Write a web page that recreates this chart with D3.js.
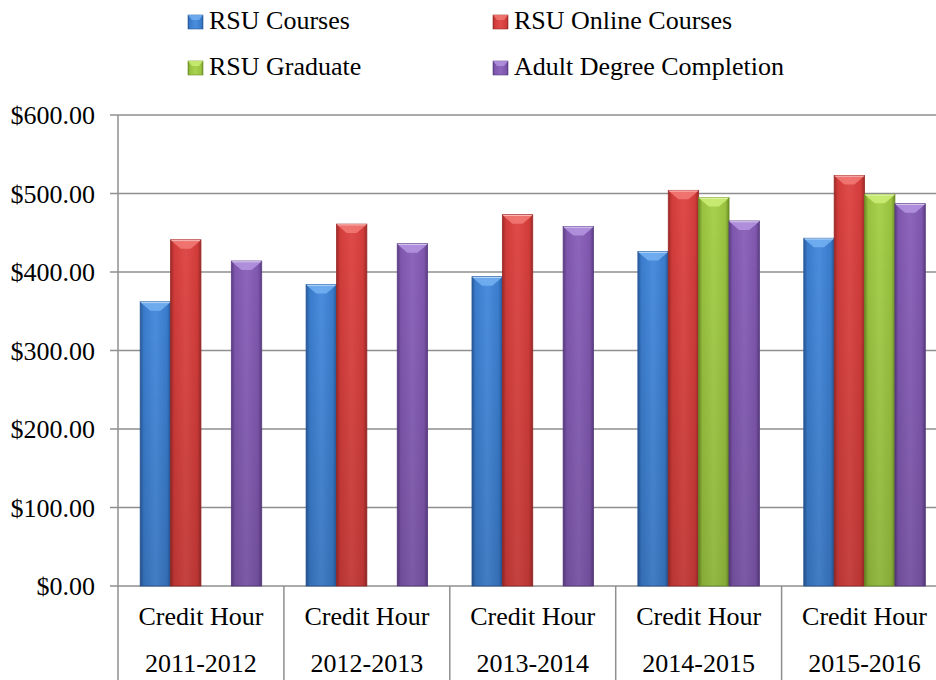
<!DOCTYPE html>
<html>
<head>
<meta charset="utf-8">
<script src="https://cdn.jsdelivr.net/npm/d3@7"></script>
<style>
  body { margin: 0; background: #fff; }
  svg { display: block; font-family: "Liberation Serif", "Times New Roman", serif; }
</style>
</head>
<body>
<svg id="chart" width="936" height="680"></svg>
<script>
// chart data
const categories = ["2011-2012", "2012-2013", "2013-2014", "2014-2015", "2015-2016"];
const seriesNames = ["RSU Courses", "RSU Online Courses", "RSU Graduate", "Adult Degree Completion"];
const rsuCourses = [362, 384, 394, 426, 443];
const rsuOnline = [441, 461, 473, 504, 523];
const rsuGraduate = [null, null, null, 495, 499];
const adultDegree = [414, 436, 458, 465, 487];
const yTicks = [0, 100, 200, 300, 400, 500, 600];

const seriesValues = [rsuCourses, rsuOnline, rsuGraduate, adultDegree];
const colors = [
    { base: "#3a7ccc", dark: "#28599a", light: "#4b8ddd", cap: "#74b2f2" },
    { base: "#d23c3a", dark: "#9c2a28", light: "#de4b48", cap: "#f27a76" },
    { base: "#99c23f", dark: "#6c8e26", light: "#a8d14e", cap: "#cdef78" },
    { base: "#7f57ae", dark: "#5b3d83", light: "#8d66bc", cap: "#b596e2" }
];

const svg = d3.select("#chart");
const defs = svg.append("defs");

const plotLeft = 118, plotTop = 115, plotBottom = 586;
const bandW = 165.9;

let x = d3.scaleBand().domain(categories).range([plotLeft, plotLeft + bandW * categories.length]).padding(0);
let x1 = d3.scaleBand().domain(seriesNames).range([0, x.bandwidth()]).paddingInner(0).paddingOuter(0.73);
let y = d3.scaleLinear().domain([0, 600]).range([plotBottom, plotTop]);

// gradients for the bevelled bars
colors.forEach((c, i) => {
    let g = defs.append("linearGradient").attr("id", "bar" + i).attr("x1", 0).attr("x2", 1).attr("y1", 0).attr("y2", 0);
    g.append("stop").attr("offset", 0).attr("stop-color", c.dark);
    g.append("stop").attr("offset", 0.12).attr("stop-color", c.base);
    g.append("stop").attr("offset", 0.5).attr("stop-color", c.light);
    g.append("stop").attr("offset", 0.88).attr("stop-color", c.base);
    g.append("stop").attr("offset", 1).attr("stop-color", c.dark);
});
let shade = defs.append("linearGradient").attr("id", "shade").attr("x1", 0).attr("x2", 0).attr("y1", 0).attr("y2", 1);
shade.append("stop").attr("offset", 0).attr("stop-color", "#000").attr("stop-opacity", 0);
shade.append("stop").attr("offset", 1).attr("stop-color", "#000").attr("stop-opacity", 0.12);

// gridlines
svg.append("g").selectAll("line").data(yTicks).join("line")
    .attr("x1", 110).attr("x2", 936)
    .attr("y1", d => y(d)).attr("y2", d => y(d))
    .attr("stroke", "#8f8f8f").attr("stroke-width", 1.5);

// y axis line
svg.append("line").attr("x1", plotLeft).attr("x2", plotLeft).attr("y1", plotTop).attr("y2", 680)
    .attr("stroke", "#8f8f8f").attr("stroke-width", 1.5);

// category separators
svg.append("g").selectAll("line").data(categories.slice(1)).join("line")
    .attr("x1", d => x(d)).attr("x2", d => x(d))
    .attr("y1", plotBottom).attr("y2", 680)
    .attr("stroke", "#8f8f8f").attr("stroke-width", 1.5);

// y labels
svg.append("g").selectAll("text").data(yTicks).join("text")
    .attr("x", 95).attr("y", d => y(d)).attr("dy", "0.35em")
    .attr("text-anchor", "end").attr("font-size", 26).attr("fill", "#000")
    .text(d => "$" + d3.format(".2f")(d));

// category labels, two levels
let catLabels = svg.append("g").selectAll("g").data(categories).join("g");
catLabels.append("text")
    .attr("x", d => x(d) + x.bandwidth() / 2).attr("y", 625)
    .attr("text-anchor", "middle").attr("font-size", 26).text("Credit Hour");
catLabels.append("text")
    .attr("x", d => x(d) + x.bandwidth() / 2).attr("y", 672)
    .attr("text-anchor", "middle").attr("font-size", 26).text(d => d);

// bars
let bars = [];
categories.forEach((cat, ci) => {
    seriesValues.forEach((vals, si) => {
        if (vals[ci] !== null) bars.push({ cat: cat, s: si, v: vals[ci] });
    });
});

let barG = svg.append("g").selectAll("g").data(bars).join("g");
barG.append("rect")
    .attr("x", d => x(d.cat) + x1(seriesNames[d.s]))
    .attr("y", d => y(d.v))
    .attr("width", x1.bandwidth())
    .attr("height", d => plotBottom - y(d.v))
    .attr("fill", d => "url(#bar" + d.s + ")")
    .attr("stroke", d => colors[d.s].dark).attr("stroke-width", 0.8);
barG.append("rect")
    .attr("x", d => x(d.cat) + x1(seriesNames[d.s]))
    .attr("y", d => y(d.v))
    .attr("width", x1.bandwidth())
    .attr("height", d => plotBottom - y(d.v))
    .attr("fill", "url(#shade)");
// bevelled top
barG.append("path")
    .attr("d", d => {
        let bx = x(d.cat) + x1(seriesNames[d.s]), by = y(d.v), w = x1.bandwidth();
        return `M${bx},${by} L${bx + w},${by} L${bx + w - 3},${by + 3} L${bx + w / 2 + 5},${by + 9} L${bx + w / 2 - 5},${by + 9} L${bx + 3},${by + 3} Z`;
    })
    .attr("fill", d => colors[d.s].cap).attr("opacity", 0.85);
barG.append("line")
    .attr("x1", d => x(d.cat) + x1(seriesNames[d.s]) + 1)
    .attr("x2", d => x(d.cat) + x1(seriesNames[d.s]) + x1.bandwidth() - 1)
    .attr("y1", d => y(d.v) + 0.8).attr("y2", d => y(d.v) + 0.8)
    .attr("stroke", "#fff").attr("stroke-opacity", 0.5).attr("stroke-width", 1);

// legend
const legendX = [188, 493];
const legendY = [29, 75];
let leg = svg.append("g").selectAll("g").data(seriesNames).join("g")
    .attr("transform", (d, i) => `translate(${legendX[i % 2]},${legendY[Math.floor(i / 2)]})`);
leg.append("rect").attr("x", 0).attr("y", -14).attr("width", 15).attr("height", 14)
    .attr("fill", (d, i) => "url(#bar" + i + ")")
    .attr("stroke", (d, i) => colors[i].dark).attr("stroke-width", 0.6);
leg.append("path").attr("d", "M0,-14 L15,-14 L11,-9 L4,-9 Z")
    .attr("fill", (d, i) => colors[i].cap).attr("opacity", 0.8);
leg.append("text").attr("x", 21).attr("y", 0).attr("font-size", 26).text(d => d);
</script>
</body>
</html>
